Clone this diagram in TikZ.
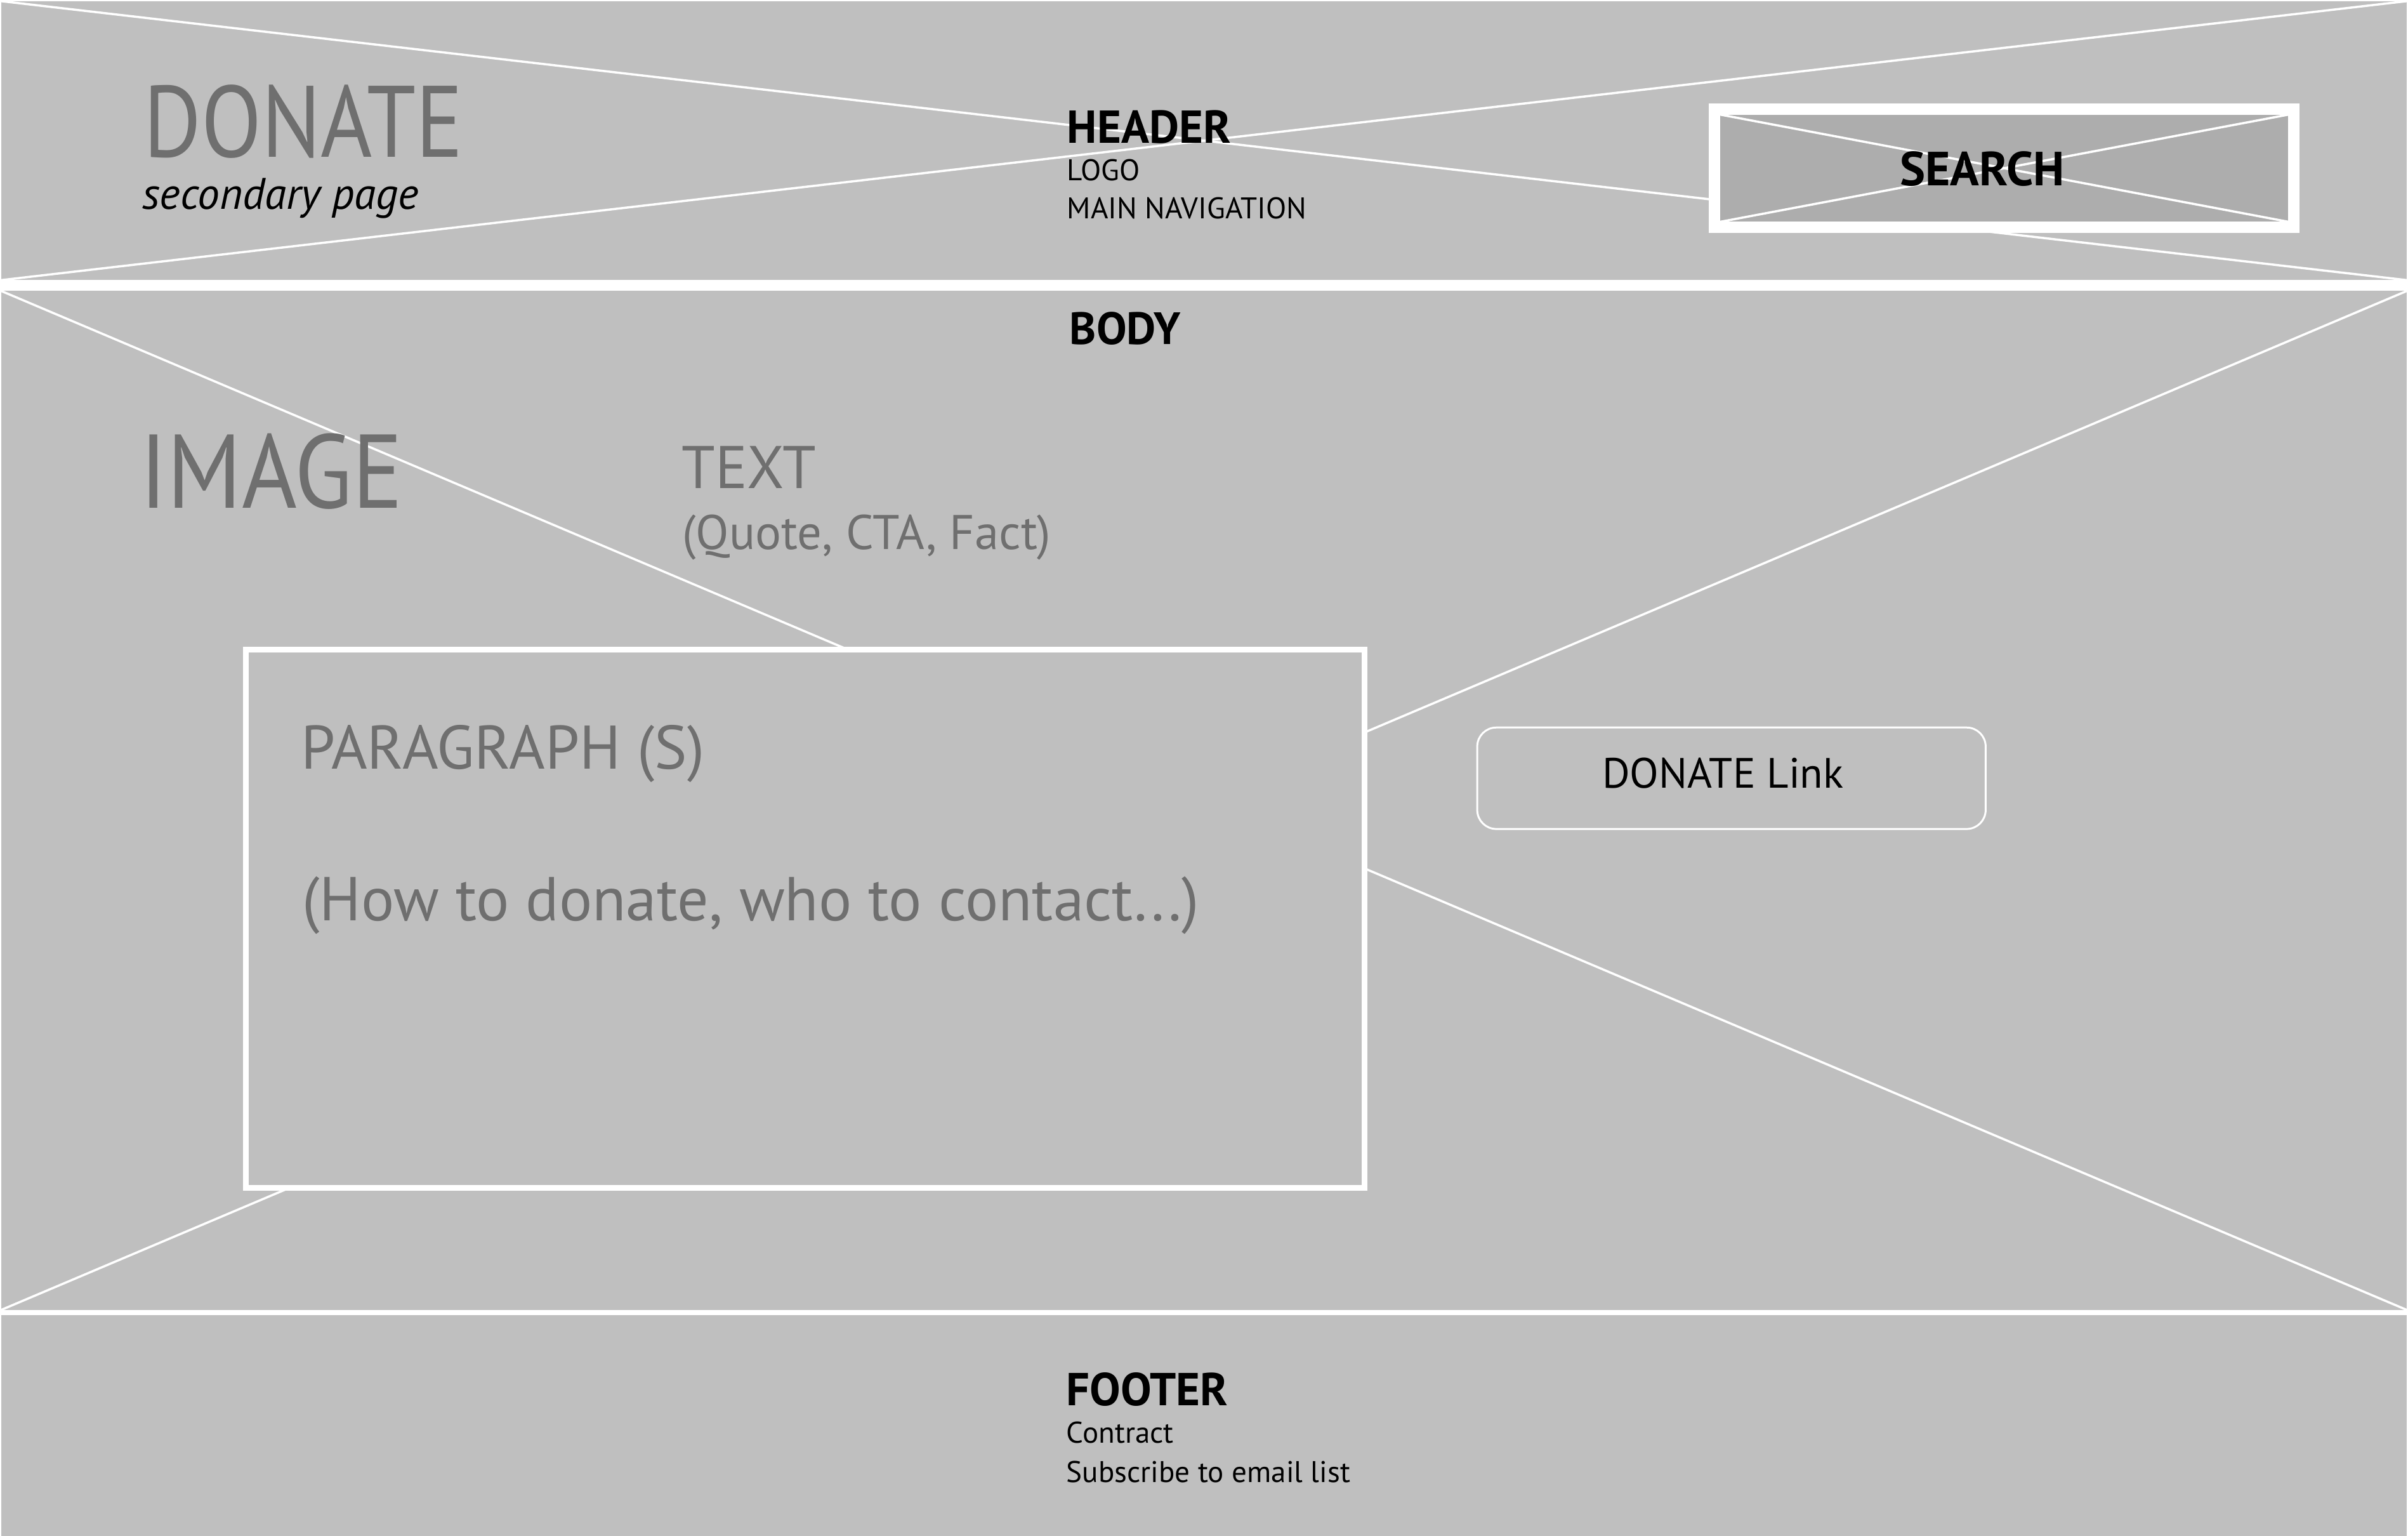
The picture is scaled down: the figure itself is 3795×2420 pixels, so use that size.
\documentclass[tikz,border=0pt]{standalone}
\usepackage{fontspec}
\setmainfont{PT Sans}
\newfontfamily\condA[FakeStretch=0.87]{PT Sans}
\newfontfamily\condB[FakeStretch=0.9]{PT Sans}
\usetikzlibrary{positioning}
\definecolor{WireBG}{HTML}{BFBFBF}
\definecolor{SearchBG}{HTML}{ADADAD}
\definecolor{LabelGray}{HTML}{6F6F6F}
\newcommand{\fsz}[1]{\fontsize{#1pt}{#1pt}\selectfont}
\tikzset{
  xline/.style={white,line width=1pt},
  lbl/.style={inner sep=0pt,anchor=base west},
  glbl/.style={lbl,text=LabelGray},
}

\begin{document}
\begin{tikzpicture}[x=0.01cm,y=-0.01cm]
  \fill[WireBG] (0,0) rectangle (3795,2420);
  \coordinate (hNW) at (0,0);
  \coordinate (hNE) at (3795,0);
  \coordinate (hSW) at (0,440);
  \coordinate (hSE) at (3795,440);
  \coordinate (bNW) at (0,457);
  \coordinate (bNE) at (3795,457);
  \coordinate (bSW) at (0,2064);
  \coordinate (bSE) at (3795,2064);
  \draw[xline] (hNW) -- (hSE);
  \draw[xline] (hSW) -- (hNE);
  \draw[xline] (bNW) -- (bSE);
  \draw[xline] (bSW) -- (bNE);
  % search box
  \draw[white,line width=0.18cm,fill=SearchBG] (2703,170) rectangle (3617,357);
  \coordinate (sNW) at (2712,179);
  \coordinate (sNE) at (3608,179);
  \coordinate (sSW) at (2712,348);
  \coordinate (sSE) at (3608,348);
  \draw[xline] (sNW) -- (sSE);
  \draw[xline] (sSW) -- (sNE);
  % bands
  \fill[white] (hSW) rectangle (bNE);
  \fill[white] (bSW) rectangle (3795,2072);
  % paragraph box and link
  \draw[white,line width=0.09cm,fill=WireBG] (386.5,1022.5) rectangle (2150.5,1871.5);
  \draw[white,line width=0.03cm,rounded corners=0.3cm] (2328.5,1145.5) rectangle (3130.5,1305.5);

  \node[glbl,font=\condA\fsz{45.5}] (title) at (224,246) {DONATE};
  \node[lbl,font=\itshape\fsz{19.8}] (subtitle) at (222,328) {secondary page};
  \node[lbl,font=\bfseries\fsz{20.7}] (header) at (1681,224) {HEADER};
  \node[lbl,font=\fsz{13.4}] (logo) at (1681,283) {LOGO};
  \node[lbl,font=\fsz{13.4}] (mainnav) at (1681,343) {MAIN NAVIGATION};
  \node[inner sep=0pt,anchor=base,font=\bfseries\fsz{21.5}] (search) at (3125,291) {SEARCH};
  \node[lbl,font=\bfseries\fsz{20.3}] (body) at (1685,541) {BODY};
  \node[glbl,font=\condB\fsz{47}] (image) at (218,799) {IMAGE};
  \node[glbl,font=\fsz{27}] (text) at (1073,768) {TEXT};
  \node[glbl,font=\fsz{21.8}] (textsub) at (1074,865) {(Quote, CTA, Fact)};
  \node[glbl,font=\fsz{27.6}] (para) at (472,1211) {PARAGRAPH (S)};
  \node[glbl,font=\fsz{27.8}] (parasub) at (474,1450) {(How to donate, who to contact...)};
  \node[inner sep=0pt,anchor=base,font=\fsz{19}] (link) at (2716,1241) {DONATE Link};
  \node[lbl,font=\bfseries\fsz{20.7}] (footer) at (1680,2215) {FOOTER};
  \node[lbl,font=\fsz{13.4}] (contract) at (1680,2274) {Contract};
  \node[lbl,font=\fsz{13.4}] (subscribe) at (1680,2336) {Subscribe to email list};
\end{tikzpicture}
\end{document}
